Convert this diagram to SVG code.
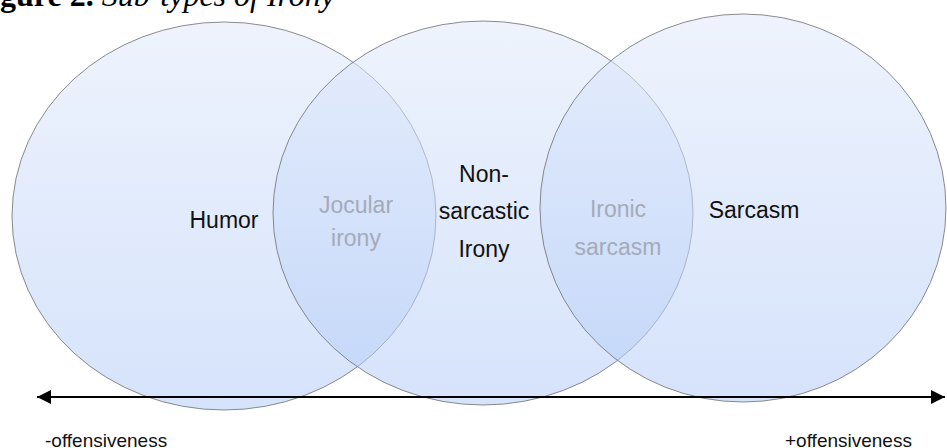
<svg xmlns="http://www.w3.org/2000/svg" width="947" height="448" viewBox="0 0 947 448">
<defs>
<linearGradient id="g1" x1="0" y1="0" x2="0" y2="1">
<stop offset="0" stop-color="#e0e9fb"/>
<stop offset="1" stop-color="#b3ccf8"/>
</linearGradient>
<marker id="ah" viewBox="0 0 10 10" refX="10" refY="5" markerWidth="7.5" markerHeight="7" markerUnits="strokeWidth" orient="auto-start-reverse">
<path d="M0,0 L10,5 L0,10 Z" fill="#000"/>
</marker>
<style>
.c{fill:url(#g1);fill-opacity:0.55;stroke:#6f6f6f;stroke-width:1;stroke-opacity:0.8}
.t{font-family:"Liberation Sans",Arial,sans-serif;font-size:23px;text-anchor:middle;fill:#111}
.f{fill:#a4abb8}
.b{font-family:"Liberation Sans",Arial,sans-serif;font-size:19px;fill:#111}
.title{font-family:"Liberation Serif","Times New Roman",serif;font-size:32px;fill:#000}
</style>
</defs>
<text class="title" x="0" y="6"><tspan font-weight="bold">gure 2.</tspan><tspan font-style="italic"> Sub-types of Irony</tspan></text>
<g id="humor">
<ellipse class="c" cx="224" cy="216" rx="212" ry="194"/>
<text class="t" x="224" y="228">Humor</text>
</g>
<g id="non-sarcastic-irony">
<ellipse class="c" cx="483" cy="213" rx="210" ry="192"/>
<text class="t" x="484" y="182">Non-</text>
<text class="t" x="484" y="219">sarcastic</text>
<text class="t" x="484" y="257">Irony</text>
</g>
<g id="sarcasm">
<ellipse class="c" cx="743" cy="208" rx="203" ry="194"/>
<text class="t" x="754" y="218">Sarcasm</text>
</g>
<g id="jocular-irony">
<text class="t f" x="356" y="213">Jocular</text>
<text class="t f" x="356" y="246">irony</text>
</g>
<g id="ironic-sarcasm">
<text class="t f" x="618" y="217">Ironic</text>
<text class="t f" x="618" y="255">sarcasm</text>
</g>
<g id="connectors">
<line x1="37" y1="397" x2="945" y2="397" stroke="#000" stroke-width="2" marker-start="url(#ah)" marker-end="url(#ah)"/>
</g>
<g id="axis-labels">
<text class="b" x="45" y="447">-offensiveness</text>
<text class="b" x="785" y="447">+offensiveness</text>
</g>
</svg>
